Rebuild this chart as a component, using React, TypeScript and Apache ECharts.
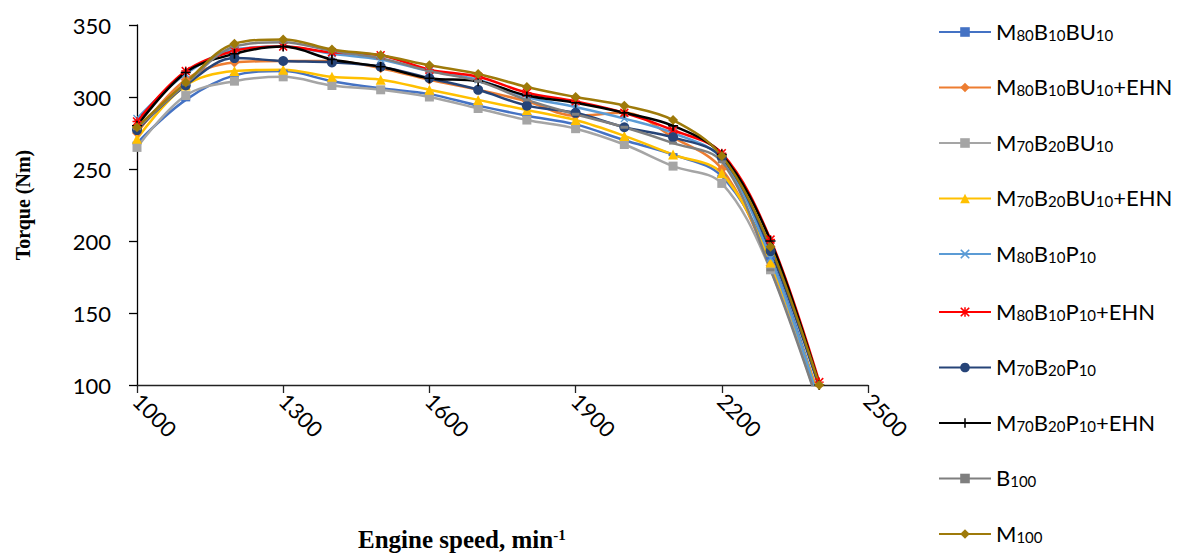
import React, { useEffect, useRef } from "react";
import * as echarts from "echarts";

const speeds = [1000, 1100, 1200, 1300, 1400, 1500, 1600, 1700, 1800, 1900, 2000, 2100, 2200, 2300, 2400];

const m80b10bu10 = [268, 298, 315, 318, 311, 306, 302, 294, 287, 281, 270, 260, 245, 188, 90];
const m80b10bu10Ehn = [275, 312, 324, 325, 325, 320, 312, 305, 297, 287, 289, 272, 250, 183, 92];
const m70b20bu10 = [265, 301, 311, 314, 308, 305, 300, 292, 284, 278, 267, 252, 240, 180, 85];
const m70b20bu10Ehn = [271, 308, 318, 319, 314, 312, 305, 298, 291, 284, 273, 260, 247, 185, 90];
const m80b10p10 = [285, 316, 333, 335, 330, 326, 318, 312, 300, 293, 285, 275, 257, 188, 88];
const m80b10p10Ehn = [283, 318, 332, 335, 331, 329, 319, 314, 303, 297, 289, 277, 261, 201, 102];
const m70b20p10 = [277, 308, 327, 325, 324, 321, 313, 305, 294, 289, 279, 272, 258, 193, 98];
const m70b20p10Ehn = [280, 317, 330, 335, 326, 321, 313, 311, 301, 296, 289, 280, 260, 200, 100];
const b100 = [278, 309, 335, 338, 332, 327, 318, 311, 298, 288, 279, 268, 255, 180, 85];
const m100 = [279, 310, 337, 340, 333, 329, 322, 316, 307, 300, 294, 284, 259, 196, 100];

const seriesNames = [
  "M80B10BU10",
  "M80B10BU10+EHN",
  "M70B20BU10",
  "M70B20BU10+EHN",
  "M80B10P10",
  "M80B10P10+EHN",
  "M70B20P10",
  "M70B20P10+EHN",
  "B100",
  "M100",
];
const seriesValues = [
  m80b10bu10, m80b10bu10Ehn, m70b20bu10, m70b20bu10Ehn, m80b10p10,
  m80b10p10Ehn, m70b20p10, m70b20p10Ehn, b100, m100,
];
const seriesColors = [
  "#4472C4", "#ED7D31", "#A5A5A5", "#FFC000", "#5B9BD5",
  "#FF0000", "#264478", "#000000", "#7F7F7F", "#9E7A0A",
];

const X_PATH = "path://M0,1.2 L1.2,0 L5,3.8 L8.8,0 L10,1.2 L6.2,5 L10,8.8 L8.8,10 L5,6.2 L1.2,10 L0,8.8 L3.8,5 Z";
const PLUS_PATH = "path://M4.2,0 H5.8 V4.2 H10 V5.8 H5.8 V10 H4.2 V5.8 H0 V4.2 H4.2 Z";
const STAR_PATH =
  "path://M0,1.2 L1.2,0 L5,3.8 L8.8,0 L10,1.2 L6.2,5 L10,8.8 L8.8,10 L5,6.2 L1.2,10 L0,8.8 L3.8,5 Z M4.2,0 H5.8 V10 H4.2 Z M0,4.2 H10 V5.8 H0 Z";
const DASH_PATH = "path://M0,0 H10 V3.5 H0 Z";

const seriesSymbols: [string, number | number[]][] = [
  [DASH_PATH, [9, 3]],
  ["diamond", 10],
  ["rect", 9],
  ["triangle", 10],
  [X_PATH, 8],
  [STAR_PATH, 9],
  ["circle", 10],
  [PLUS_PATH, 10],
  [DASH_PATH, [8, 3]],
  ["diamond", 10],
];

const FONT = "Lato, 'Open Sans', sans-serif";
const SERIF = "'Liberation Serif', 'Times New Roman', serif";

function richName(name: string): string {
  return name
    .split(/(\d+)/)
    .filter((p) => p.length > 0)
    .map((p) => (/^\d+$/.test(p) ? `{s|${p}}` : `{n|${p}}`))
    .join("");
}

function makeLegend(names: string[], top: number) {
  return {
    orient: "vertical",
    left: 938,
    top,
    padding: 0,
    itemWidth: 52,
    itemHeight: 12,
    itemGap: 33.5,
    data: names,
    formatter: (name: string) => richName(name),
    textStyle: {
      fontFamily: FONT,
      color: "#000",
      rich: {
        n: { fontFamily: FONT, fontSize: 22, lineHeight: 20, verticalAlign: "bottom", color: "#000" },
        s: { fontFamily: FONT, fontSize: 15, lineHeight: 11, verticalAlign: "bottom", color: "#000" },
      },
    },
  };
}

export default function App() {
  const ref = useRef<HTMLDivElement>(null);

  useEffect(() => {
    if (!ref.current) return;
    const chart = echarts.init(ref.current, undefined, { renderer: "svg" });

    const series = seriesNames.map((name, i) => ({
      name,
      type: "line",
      smooth: 0.35,
      symbol: seriesSymbols[i][0],
      symbolSize: seriesSymbols[i][1],
      showSymbol: true,
      clip: true,
      lineStyle: { width: 2.5, color: seriesColors[i] },
      itemStyle: { color: seriesColors[i] },
      data: speeds.map((x, j) => [x, seriesValues[i][j]]),
    }));

    chart.setOption({
      animation: false,
      backgroundColor: "#ffffff",
      grid: { left: 137, top: 25, right: 319, bottom: 168, containLabel: false },
      xAxis: {
        type: "value",
        min: 1000,
        max: 2500,
        interval: 300,
        axisLine: { show: true, lineStyle: { color: "#222", width: 1.3 } },
        axisTick: { show: true, inside: false, length: 8, lineStyle: { color: "#222", width: 1.3 } },
        splitLine: { show: false },
        axisLabel: {
          rotate: -45,
          margin: 12,
          fontFamily: FONT,
          fontSize: 22,
          color: "#000",
          formatter: (v: number) => String(v),
        },
      },
      yAxis: {
        type: "value",
        min: 100,
        max: 350,
        interval: 50,
        axisLine: { show: true, lineStyle: { color: "#000", width: 1.3 } },
        axisTick: { show: true, inside: false, length: 8, lineStyle: { color: "#000", width: 1.3 } },
        splitLine: { show: false },
        axisLabel: { margin: 26, fontFamily: FONT, fontSize: 22, color: "#000" },
        name: "Torque (Nm)",
        nameLocation: "middle",
        nameGap: 104,
        nameRotate: 90,
        nameTextStyle: {
          fontFamily: SERIF,
          fontWeight: "bold",
          fontSize: 20,
          color: "#000",
        },
      },
      legend: [makeLegend(seriesNames.slice(0, 5), 20), makeLegend(seriesNames.slice(5), 300)],
      graphic: [
        {
          type: "text",
          left: 358,
          top: 527,
          style: {
            text: "{t|Engine speed, min}{p|-1}",
            rich: {
              t: {
                fontFamily: SERIF,
                fontWeight: "bold",
                fontSize: 25,
                lineHeight: 25,
                verticalAlign: "bottom",
                fill: "#000",
              },
              p: {
                fontFamily: SERIF,
                fontWeight: "bold",
                fontSize: 15,
                lineHeight: 25,
                verticalAlign: "top",
                fill: "#000",
              },
            },
          },
        },
      ],
      series,
    });

    return () => chart.dispose();
  }, []);

  return <div ref={ref} style={{ width: 1187, height: 553, position: "absolute", left: 0, top: 0 }} />;
}
